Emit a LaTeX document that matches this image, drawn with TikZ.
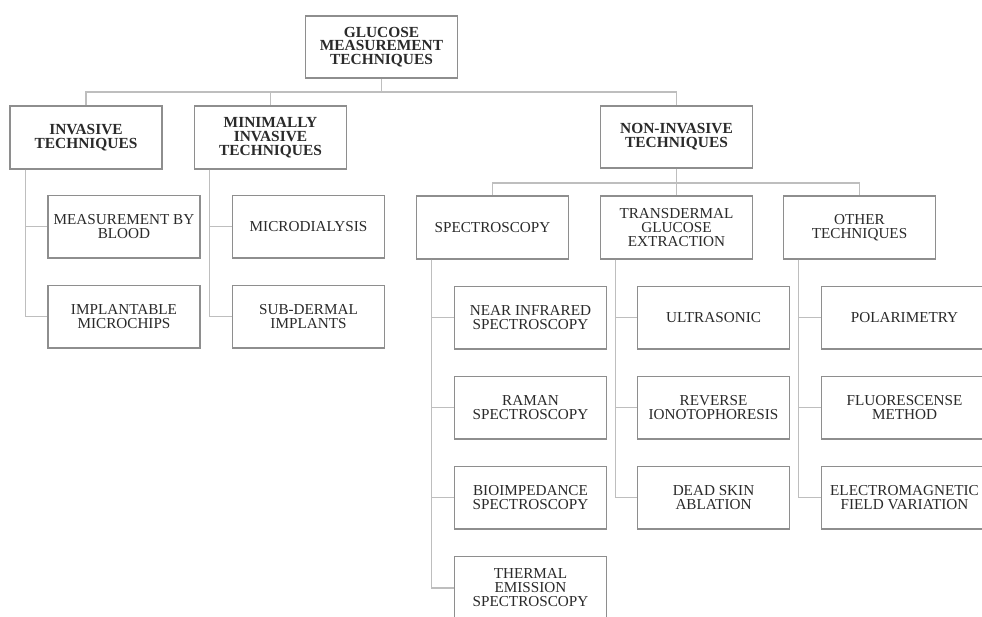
\documentclass[tikz,border=0pt]{standalone}
\usepackage{fontspec}
\setmainfont{Liberation Serif}
\usetikzlibrary{positioning}

\definecolor{boxgray}{HTML}{8E8E8E}
\definecolor{linegray}{HTML}{BEBEBE}
\definecolor{txtgray}{HTML}{2A2A2A}

\begin{document}
\begin{tikzpicture}[
    x=1pt, y=-1pt,
    box/.style={rectangle, draw=boxgray, line width=1.6pt, fill=white, align=center, minimum width=152pt, minimum height=62.5pt, inner sep=1pt, text=txtgray, font=\fontsize{15.2}{14}\selectfont},
    head/.style={box, font=\fontsize{15.4}{13.8}\selectfont\bfseries},
    leaf/.style={box},
    wideleaf/.style={box, minimum width=166pt},
    link/.style={draw=linegray, line width=1.3pt},
    node distance=26pt
]
    \clip (0,0) rectangle (982,617);
    \fill[white] (0,0) rectangle (982,617);

    % Top levels
    \node [head] (root) at (381.5,47) {GLUCOSE\\MEASUREMENT\\TECHNIQUES};
    \node [head] (inv) at (86,137.5) {INVASIVE\\TECHNIQUES};
    \node [head] (mininv) at (270.5,137.5) {MINIMALLY\\INVASIVE\\TECHNIQUES};
    \node [head] (noninv) at (676.5,137) {NON-INVASIVE\\TECHNIQUES};

    \node [box] (spec) at (492.5,227.5) {SPECTROSCOPY};
    \node [box] (trans) at (676.5,227.5) {TRANSDERMAL\\GLUCOSE\\EXTRACTION};
    \node [box] (other) at (859.5,227.5) {OTHER\\TECHNIQUES};

    % Leaves
    \node [leaf, below=25pt of inv, xshift=38pt] (blood) {MEASUREMENT BY\\BLOOD};
    \node [leaf, below=of blood] (chips) {IMPLANTABLE\\MICROCHIPS};

    \node [leaf, below=25pt of mininv, xshift=38pt] (dialysis) {MICRODIALYSIS};
    \node [leaf, below=of dialysis] (subdermal) {SUB-DERMAL\\IMPLANTS};

    \node [leaf, below=of spec, xshift=38pt] (nir) {NEAR INFRARED\\SPECTROSCOPY};
    \node [leaf, below=of nir] (raman) {RAMAN\\SPECTROSCOPY};
    \node [leaf, below=of raman] (bioimp) {BIOIMPEDANCE\\SPECTROSCOPY};
    \node [leaf, below=of bioimp] (thermal) {THERMAL\\EMISSION\\SPECTROSCOPY};

    \node [leaf, below=of trans, xshift=37pt] (ultra) {ULTRASONIC};
    \node [leaf, below=of ultra] (reverse) {REVERSE\\IONOTOPHORESIS};
    \node [leaf, below=of reverse] (deadskin) {DEAD SKIN\\ABLATION};

    \node [wideleaf, below=of other, xshift=45pt] (polar) {POLARIMETRY};
    \node [wideleaf, below=of polar] (fluor) {FLUORESCENSE\\METHOD};
    \node [wideleaf, below=of fluor] (emfield) {ELECTROMAGNETIC\\FIELD VARIATION};

    % Tree branches
    \foreach \kid in {inv, mininv, noninv}
        \draw [link] (root.south) -- ++(0,13) -| (\kid.north);
    \foreach \kid in {spec, trans, other}
        \draw [link] (noninv.south) -- ++(0,14) -| (\kid.north);

    % Side rails to the leaves
    \foreach \up/\kid in {inv/blood, inv/chips, mininv/dialysis, mininv/subdermal,
                          spec/nir, spec/raman, spec/bioimp, spec/thermal,
                          trans/ultra, trans/reverse, trans/deadskin,
                          other/polar, other/fluor, other/emfield}
        \draw [link] ([xshift=16pt]\up.south west) |- (\kid.west);

\end{tikzpicture}
\end{document}
